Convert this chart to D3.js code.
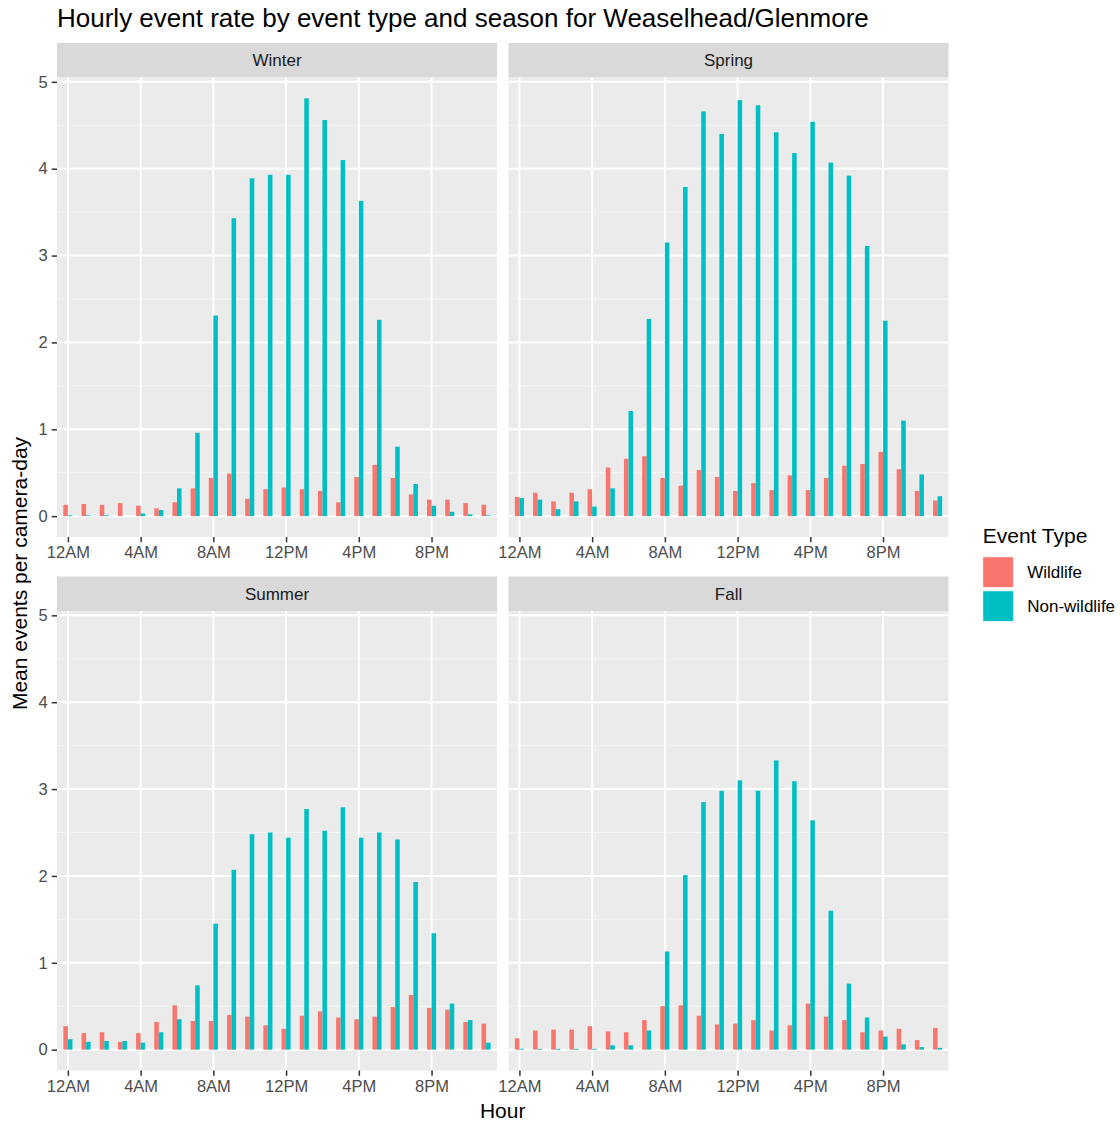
<!DOCTYPE html>
<html>
<head>
<meta charset="utf-8">
<script src="https://cdn.jsdelivr.net/npm/d3@7"></script>
<style>
  html, body { margin: 0; padding: 0; background: #ffffff; }
  svg { display: block; font-family: "Liberation Sans", Arial, sans-serif; }
</style>
</head>
<body>
<svg id="chart" width="1120" height="1122"></svg>
<script>
// Hour of day (0 = midnight)
const hours = [0,1,2,3,4,5,6,7,8,9,10,11,12,13,14,15,16,17,18,19,20,21,22,23];
const tickHours = [0, 4, 8, 12, 16, 20];
const tickLabels = ["12AM", "4AM", "8AM", "12PM", "4PM", "8PM"];
const yTicks = [0, 1, 2, 3, 4, 5];
const yMinor = [0.5, 1.5, 2.5, 3.5, 4.5];

const seasons = ["Winter", "Spring", "Summer", "Fall"];
const eventTypes = ["Wildlife", "Non-wildlife"];
const typeColors = ["#F8766D", "#00BFC4"];

// Mean events per camera-day, by hour
const winterWildlife    = [0.13,0.14,0.13,0.15,0.12,0.09,0.16,0.32,0.44,0.49,0.20,0.31,0.33,0.31,0.29,0.16,0.45,0.59,0.44,0.25,0.19,0.19,0.15,0.13];
const winterNonWildlife = [0.01,0.01,0.01,0.00,0.03,0.07,0.32,0.96,2.31,3.43,3.89,3.93,3.93,4.81,4.56,4.10,3.63,2.26,0.80,0.37,0.12,0.05,0.02,0.01];
const springWildlife    = [0.22,0.27,0.17,0.27,0.31,0.56,0.66,0.69,0.44,0.35,0.53,0.45,0.29,0.38,0.30,0.47,0.30,0.44,0.58,0.60,0.74,0.54,0.29,0.18];
const springNonWildlife = [0.21,0.19,0.08,0.17,0.11,0.32,1.21,2.27,3.15,3.79,4.66,4.40,4.79,4.73,4.42,4.18,4.54,4.07,3.92,3.11,2.25,1.10,0.48,0.23];
const summerWildlife    = [0.27,0.19,0.20,0.09,0.19,0.32,0.51,0.33,0.33,0.40,0.38,0.28,0.24,0.39,0.44,0.37,0.35,0.38,0.49,0.63,0.48,0.46,0.32,0.30];
const summerNonWildlife = [0.12,0.09,0.10,0.10,0.08,0.20,0.35,0.74,1.45,2.07,2.48,2.50,2.44,2.77,2.52,2.79,2.44,2.50,2.42,1.93,1.34,0.53,0.34,0.08];
const fallWildlife      = [0.13,0.22,0.23,0.23,0.27,0.21,0.20,0.34,0.50,0.51,0.39,0.29,0.30,0.34,0.22,0.28,0.53,0.38,0.34,0.20,0.22,0.24,0.11,0.25];
const fallNonWildlife   = [0.01,0.01,0.01,0.01,0.01,0.05,0.05,0.22,1.13,2.01,2.85,2.98,3.10,2.98,3.33,3.09,2.64,1.60,0.76,0.37,0.15,0.06,0.03,0.02];

const seriesBySeason = {
  Winter: [winterWildlife, winterNonWildlife],
  Spring: [springWildlife, springNonWildlife],
  Summer: [summerWildlife, summerNonWildlife],
  Fall:   [fallWildlife, fallNonWildlife]
};

const svg = d3.select("#chart");

// Facet grid geometry
const colX = [57, 508.5];
const panelW = 440;
const stripTop = [43, 576.5];
const stripH = 34.5;
const panelH = 459.5;

const x = d3.scaleLinear().domain([-0.6, 23.6]).range([0, panelW]);
const y = d3.scaleLinear().domain([-0.24, 5.05]).range([panelH, 0]);
const dodge = d3.scaleBand().domain(eventTypes).range([-0.25, 0.25]);

// Title
svg.append("text")
  .attr("x", 57).attr("y", 27)
  .attr("font-size", 26).attr("fill", "#000")
  .text("Hourly event rate by event type and season for Weaselhead/Glenmore");

seasons.forEach((season, i) => {
  const col = i % 2, row = Math.floor(i / 2);
  const px = colX[col];
  const sy = stripTop[row];
  const py = sy + stripH;

  // Strip
  const g = svg.append("g");
  g.append("rect").attr("x", px).attr("y", sy).attr("width", panelW).attr("height", stripH).attr("fill", "#D9D9D9");
  g.append("text").attr("x", px + panelW / 2).attr("y", sy + stripH / 2 + 6)
    .attr("text-anchor", "middle").attr("font-size", 17).attr("fill", "#1A1A1A").text(season);

  const p = svg.append("g").attr("transform", `translate(${px},${py})`);
  p.append("rect").attr("width", panelW).attr("height", panelH).attr("fill", "#EBEBEB");

  // Grid
  p.selectAll(".ymin").data(yMinor).join("line")
    .attr("x1", 0).attr("x2", panelW).attr("y1", d => y(d)).attr("y2", d => y(d))
    .attr("stroke", "#F5F5F5").attr("stroke-width", 1);
  p.selectAll(".ymaj").data(yTicks).join("line")
    .attr("x1", 0).attr("x2", panelW).attr("y1", d => y(d)).attr("y2", d => y(d))
    .attr("stroke", "#FFFFFF").attr("stroke-width", 2);
  p.selectAll(".xmaj").data(tickHours).join("line")
    .attr("y1", 0).attr("y2", panelH).attr("x1", d => x(d)).attr("x2", d => x(d))
    .attr("stroke", "#FFFFFF").attr("stroke-width", 2);

  // Bars
  const series = seriesBySeason[season];
  eventTypes.forEach((type, k) => {
    p.append("g").selectAll("rect").data(hours).join("rect")
      .attr("x", h => x(h + dodge(type)))
      .attr("width", x(dodge.bandwidth()) - x(0))
      .attr("y", h => y(series[k][h]))
      .attr("height", h => y(0) - y(series[k][h]))
      .attr("fill", typeColors[k]);
  });

  // Axes: x on every panel, y only on the left column
  const axes = [];
  axes.push(p.append("g").attr("transform", `translate(0,${panelH})`)
    .call(d3.axisBottom(x).tickValues(tickHours).tickFormat((d, j) => tickLabels[j]).tickSize(5.3).tickPadding(4)));
  if (col === 0) {
    axes.push(p.append("g")
      .call(d3.axisLeft(y).tickValues(yTicks).tickFormat(d3.format("d")).tickSize(5.3).tickPadding(4)));
  }
  axes.forEach(a => {
    a.select(".domain").remove();
    a.selectAll(".tick line").attr("stroke", "#333333").attr("stroke-width", 1.5);
    a.selectAll(".tick text").attr("fill", "#4D4D4D").attr("font-size", 16.5).attr("font-family", "Liberation Sans, Arial, sans-serif");
  });
});

// Axis titles
svg.append("text").attr("x", 502.7).attr("y", 1118).attr("text-anchor", "middle")
  .attr("font-size", 21).attr("fill", "#000").text("Hour");
svg.append("text").attr("transform", "translate(27,573.5) rotate(-90)").attr("text-anchor", "middle")
  .attr("font-size", 21).attr("fill", "#000").text("Mean events per camera-day");

// Legend
const lg = svg.append("g").attr("transform", "translate(982.7,0)");
lg.append("text").attr("x", 0).attr("y", 543).attr("font-size", 21).attr("fill", "#000").text("Event Type");
eventTypes.forEach((type, k) => {
  const ky = 556.7 + k * 34;
  lg.append("rect").attr("x", 0).attr("y", ky).attr("width", 31).attr("height", 31)
    .attr("fill", typeColors[k]).attr("stroke", "#FFFFFF").attr("stroke-width", 1);
  lg.append("text").attr("x", 44.5).attr("y", ky + 21.5).attr("font-size", 17).attr("fill", "#000").text(type);
});
</script>
</body>
</html>
